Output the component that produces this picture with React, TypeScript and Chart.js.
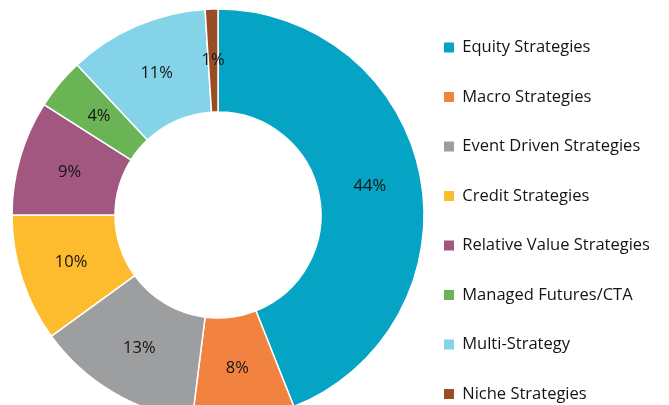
import React, { useEffect, useRef } from "react";
import { Chart, registerables } from "chart.js";

Chart.register(...registerables);

const categories = [
  "Equity Strategies",
  "Macro Strategies",
  "Event Driven Strategies",
  "Credit Strategies",
  "Relative Value Strategies",
  "Managed Futures/CTA",
  "Multi-Strategy",
  "Niche Strategies",
];
const shares = [44, 8, 13, 10, 9, 4, 11, 1];
const sliceColors = [
  "#05a3c4",
  "#f2823f",
  "#9d9ea0",
  "#fdbc2d",
  "#a1577f",
  "#6bb455",
  "#84d3e9",
  "#9a4c22",
];

const W = 669;
const H = 450;
const SHIFT = 10;
const FONT = "'Open Sans', 'Noto Sans', sans-serif";
const LEGEND_FONT_SIZE = 16.5;
const LEGEND_STEP = 49.5;
const LEGEND_PAD = LEGEND_STEP - LEGEND_FONT_SIZE;
const BOX = 10;
const BOX_X = 444;
const CENTER_X = 218;
const CENTER_Y = 215;
const LAST_LEGEND_Y = 394;
const OUTER_R = 206;
const TEXT_COLOR = "#141414";

const labelPlugin = {
  id: "sliceLabels",
  afterDatasetsDraw(chart: any) {
    const ctx = chart.ctx;
    const meta = chart.getDatasetMeta(0);
    ctx.save();
    ctx.font = `16.5px ${FONT}`;
    ctx.fillStyle = TEXT_COLOR;
    ctx.textAlign = "center";
    ctx.textBaseline = "middle";
    meta.data.forEach((arc: any, i: number) => {
      const p = arc.tooltipPosition(false);
      ctx.fillText(`${shares[i]}%`, p.x, p.y);
    });
    ctx.restore();
  },
};

export default function App() {
  const ref = useRef<HTMLCanvasElement>(null);

  useEffect(() => {
    const canvas = ref.current!;
    const mctx = document.createElement("canvas").getContext("2d")!;
    mctx.font = `${LEGEND_FONT_SIZE}px ${FONT}`;
    const maxText = Math.max(...categories.map((c) => mctx.measureText(c).width));
    const colWidth = BOX + LEGEND_FONT_SIZE / 2 + maxText;
    const padR = W - BOX_X - colWidth - 10;
    const padL = 2 * CENTER_X - (BOX_X - LEGEND_PAD);
    const legendBottom = LAST_LEGEND_Y + SHIFT + LEGEND_STEP - LEGEND_FONT_SIZE / 2;
    const padB = H - legendBottom;
    const padT = 2 * (CENTER_Y + SHIFT) - legendBottom;

    const chart = new Chart(canvas, {
      type: "doughnut",
      data: {
        labels: categories,
        datasets: [
          {
            data: shares,
            backgroundColor: sliceColors,
            borderColor: "#ffffff",
            borderWidth: 1.5,
            hoverOffset: 0,
            clip: false as any,
          },
        ],
      },
      options: {
        responsive: false,
        animation: false,
        devicePixelRatio: 1,
        radius: OUTER_R,
        cutout: "50%",
        layout: {
          padding: { left: padL, right: padR, top: padT, bottom: padB },
        },
        plugins: {
          tooltip: { enabled: false },
          legend: {
            position: "right",
            align: "end",
            labels: {
              boxWidth: BOX,
              boxHeight: BOX,
              padding: LEGEND_PAD,
              color: TEXT_COLOR,
              font: { size: LEGEND_FONT_SIZE, family: FONT },
              generateLabels: (c: any) => {
                const base = (Chart as any).overrides.doughnut.plugins.legend.labels.generateLabels(c);
                return base.map((l: any) => ({ ...l, lineWidth: 0, strokeStyle: l.fillStyle }));
              },
            },
          },
        },
      } as any,
      plugins: [labelPlugin],
    });
    return () => chart.destroy();
  }, []);

  return (
    <div
      style={{
        position: "absolute",
        left: 0,
        top: 0,
        width: 669,
        height: 405,
        overflow: "hidden",
        background: "#ffffff",
      }}
    >
      <canvas
        ref={ref}
        width={W}
        height={H}
        style={{ position: "absolute", left: 0, top: -SHIFT, width: W, height: H, display: "block" }}
      />
    </div>
  );
}
